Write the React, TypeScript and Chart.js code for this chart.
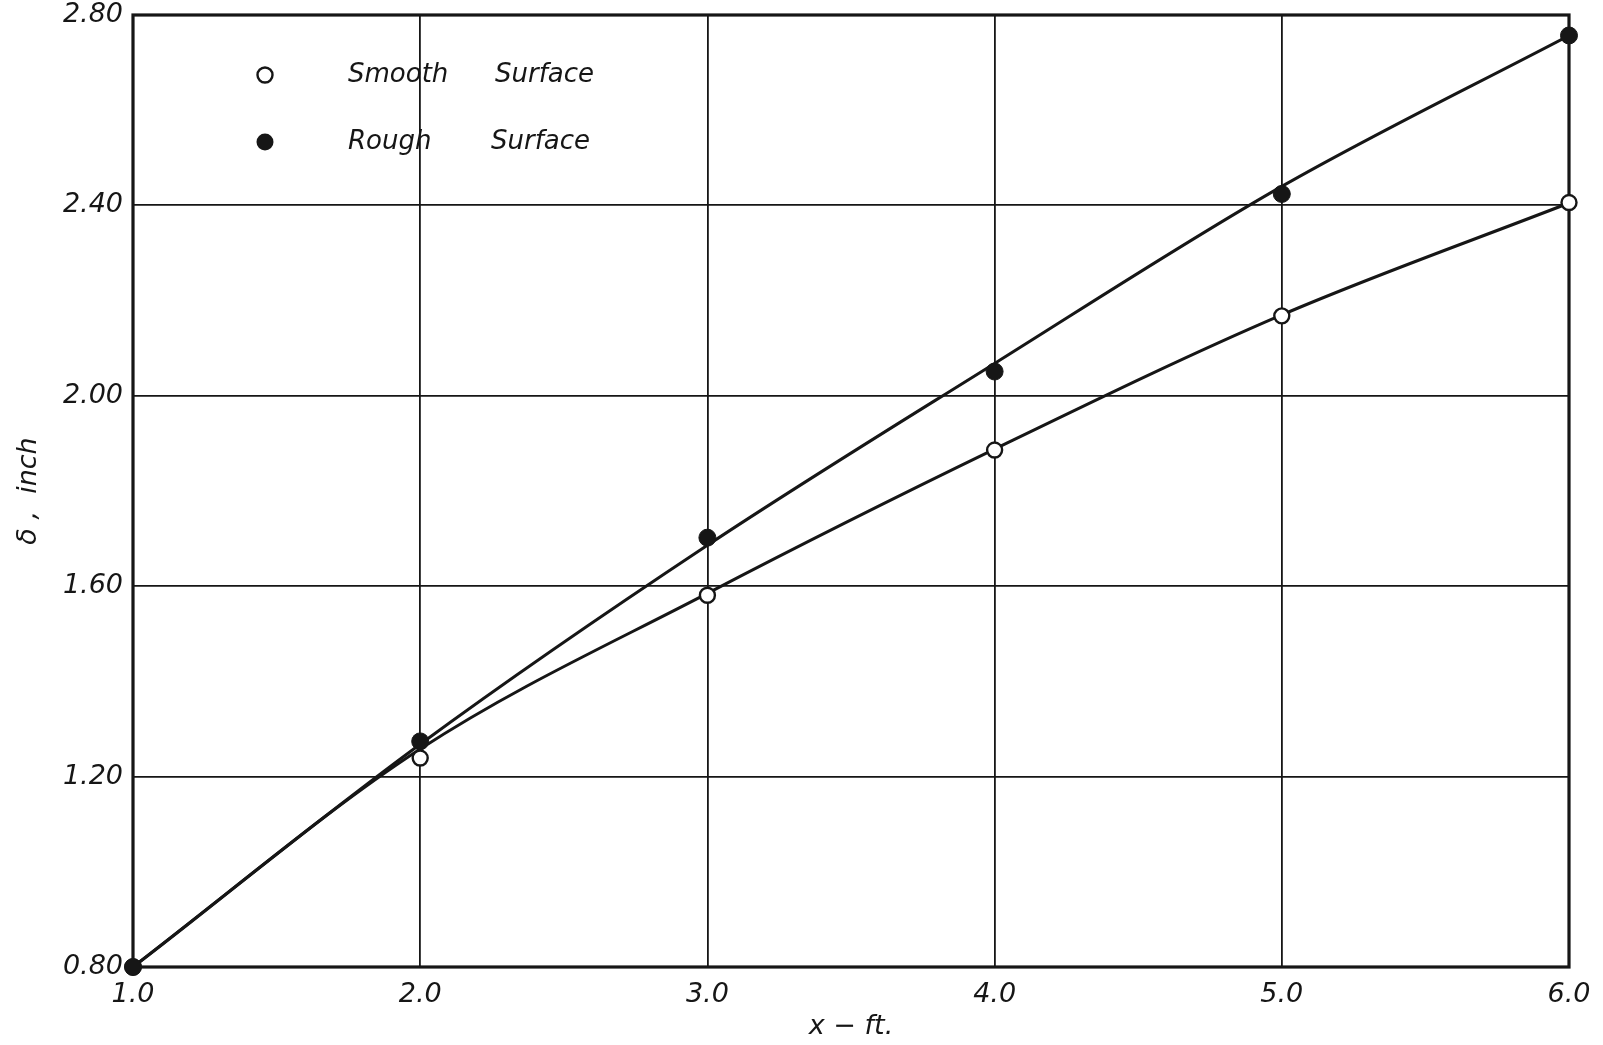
import React, { useEffect, useRef } from "react";
import { Chart, registerables } from "chart.js";

Chart.register(...registerables);

// ---- data ----
const xValues = [1, 2, 3, 4, 5, 6];
const smoothPoints = [0.8, 1.239, 1.581, 1.886, 2.168, 2.406];
const roughPoints = [0.8, 1.274, 1.702, 2.051, 2.424, 2.757];
const smoothCurve = [0.8, 1.258, 1.585, 1.888, 2.17, 2.405];
const roughCurve = [0.8, 1.268, 1.686, 2.068, 2.44, 2.757];
const xTicks = [1, 2, 3, 4, 5, 6];
const yTicks = [0.8, 1.2, 1.6, 2.0, 2.4, 2.8];
const seriesNames = ["Smooth Surface", "Rough Surface"];
const xTitle = "x − ft.";
const yTitle = "δ ,  inch";

const INK = "#161616";
const FAMILY = "'DejaVu Sans', 'Liberation Sans', sans-serif";
const W = 1603;
const H = 1045;

const toXY = (ys: number[]) => xValues.map((x, i) => ({ x, y: ys[i] }));

const framePlugin = {
  id: "frame",
  beforeDatasetsDraw(chart: any) {
    const { ctx, chartArea } = chart;
    const { left, top, right, bottom } = chartArea;
    ctx.save();
    ctx.strokeStyle = INK;
    ctx.lineWidth = 3.2;
    ctx.strokeRect(left, top, right - left, bottom - top);
    ctx.restore();
  },
};

const legendPlugin = {
  id: "manualLegend",
  afterDatasetsDraw(chart: any) {
    const { ctx, chartArea } = chart;
    const { left, top } = chartArea;
    ctx.save();
    ctx.font = `italic 26px ${FAMILY}`;
    ctx.fillStyle = INK;
    ctx.textBaseline = "middle";
    ctx.textAlign = "left";
    seriesNames.forEach((name, i) => {
      const y = top + 60 + i * 67;
      const mx = left + 132;
      ctx.beginPath();
      ctx.arc(mx, y, i === 0 ? 7.5 : 8.5, 0, Math.PI * 2);
      if (i === 0) {
        ctx.fillStyle = "#ffffff";
        ctx.fill();
        ctx.lineWidth = 2.4;
        ctx.strokeStyle = INK;
        ctx.stroke();
      } else {
        ctx.fillStyle = INK;
        ctx.fill();
      }
      ctx.fillStyle = INK;
      const words = name.split(" ");
      ctx.fillText(words[0], left + 215, y);
      ctx.fillText(words[1], left + 362 - i * 4, y);
    });
    ctx.restore();
  },
};

const tickFont = { family: FAMILY, size: 27, style: "italic" as const };

export default function App() {
  const ref = useRef<HTMLCanvasElement | null>(null);

  useEffect(() => {
    if (!ref.current) return;
    const chart = new Chart(ref.current, {
      type: "scatter",
      data: {
        datasets: [
          {
            label: "Rough curve",
            data: toXY(roughCurve),
            showLine: true,
            borderColor: INK,
            borderWidth: 3,
            pointRadius: 0,
            cubicInterpolationMode: "monotone",
            order: 3,
          },
          {
            label: "Smooth curve",
            data: toXY(smoothCurve),
            showLine: true,
            borderColor: INK,
            borderWidth: 3,
            pointRadius: 0,
            cubicInterpolationMode: "monotone",
            order: 3,
          },
          {
            label: seriesNames[0],
            data: toXY(smoothPoints),
            showLine: false,
            pointRadius: 7.5,
            pointBackgroundColor: "#ffffff",
            pointBorderColor: INK,
            pointBorderWidth: 2.4,
            clip: false,
            order: 2,
          },
          {
            label: seriesNames[1],
            data: toXY(roughPoints),
            showLine: false,
            pointRadius: 8.5,
            pointBackgroundColor: INK,
            pointBorderColor: INK,
            pointBorderWidth: 1,
            clip: false,
            order: 1,
          },
        ],
      } as any,
      options: {
        animation: false,
        responsive: false,
        devicePixelRatio: 1,
        layout: { padding: { top: 15, right: 34, bottom: 0, left: 0 } },
        plugins: {
          legend: { display: false },
          tooltip: { enabled: false },
        },
        scales: {
          x: {
            type: "linear",
            min: 1,
            max: 6,
            afterBuildTicks: (scale: any) => {
              scale.ticks = xTicks.map((v) => ({ value: v }));
            },
            afterFit: (scale: any) => {
              scale.height = H - 967;
              scale.paddingLeft = 0;
              scale.paddingRight = 0;
            },
            grid: { color: INK, lineWidth: 1.8, drawTicks: false },
            border: { display: false },
            ticks: {
              padding: 12,
              color: INK,
              font: tickFont,
              callback: (v: any) => Number(v).toFixed(1),
              maxRotation: 0,
            },
            title: {
              display: true,
              text: xTitle,
              color: INK,
              font: tickFont,
              padding: { top: 0, bottom: 2 },
            },
          },
          y: {
            type: "linear",
            min: 0.8,
            max: 2.8,
            afterBuildTicks: (scale: any) => {
              scale.ticks = yTicks.map((v) => ({ value: v }));
            },
            afterFit: (scale: any) => {
              scale.width = 133;
              scale.paddingTop = 0;
              scale.paddingBottom = 0;
            },
            grid: { color: INK, lineWidth: 1.8, drawTicks: false },
            border: { display: false },
            ticks: {
              padding: 10,
              color: INK,
              font: tickFont,
              callback: (v: any) => Number(v).toFixed(2),
            },
            title: {
              display: true,
              text: yTitle,
              color: INK,
              font: tickFont,
              padding: { top: 13, bottom: 0 },
            },
          },
        },
      } as any,
      plugins: [framePlugin, legendPlugin],
    });
    return () => chart.destroy();
  }, []);

  return (
    <div style={{ position: "absolute", left: 0, top: 0, width: W, height: H, background: "#ffffff" }}>
      <canvas ref={ref} width={W} height={H} style={{ width: W, height: H, display: "block" }} />
    </div>
  );
}
